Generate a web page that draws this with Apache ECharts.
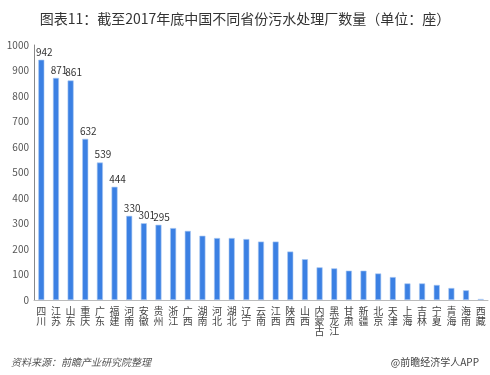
<!DOCTYPE html>
<html><head><meta charset="utf-8">
<script src="https://cdn.jsdelivr.net/npm/echarts@6/dist/echarts.min.js"></script>
<style>html,body{margin:0;padding:0;background:#fff}#c{width:490px;height:375px}</style>
</head><body><div id="c"></div>
<script>
const categories = ['四川','江苏','山东','重庆','广东','福建','河南','安徽','贵州','浙江','广西','湖南','河北','湖北','辽宁','云南','江西','陕西','山西','内蒙古','黑龙江','甘肃','新疆','北京','天津','上海','吉林','宁夏','青海','海南','西藏'];
const values = [942,871,861,632,539,444,330,301,295,282,271,252,243,243,239,229,229,190,160,128,124,115,115,104,90,65,65,59,47,38,4];
const labeledCount = 9;
const yTicks = [0,100,200,300,400,500,600,700,800,900,1000];

const chart = echarts.init(document.getElementById('c'));
chart.setOption({
  animation:false,
  textStyle:{fontFamily:'"Noto Sans CJK SC", "Noto Sans", sans-serif'},
  title:[
    {text:'图表11：截至2017年底中国不同省份污水处理厂数量（单位：座）',left:'center',top:7,
     textStyle:{fontSize:14,fontWeight:'normal',color:'#333',fontFamily:'"Noto Sans CJK SC", sans-serif'}},
    {text:'资料来源：前瞻产业研究院整理',left:6,top:352,
     textStyle:{fontSize:10,fontWeight:'normal',fontStyle:'italic',color:'#555'}},
    {text:'@前瞻经济学人APP',right:6,top:352,
     textStyle:{fontSize:10,fontWeight:'normal',color:'#444'}}
  ],
  grid:{left:34,right:2,top:45,bottom:75,containLabel:false},
  xAxis:{type:'category',data:categories,
    axisLine:{lineStyle:{color:'#bbb'}},axisTick:{show:false},
    axisLabel:{interval:0,fontSize:10,color:'#444',lineHeight:10,margin:6,
      formatter:v=>v.split('').join('\n'),verticalAlign:'top'}},
  yAxis:{type:'value',min:0,max:1000,interval:100,
    axisLine:{show:true,lineStyle:{color:'#888'}},axisTick:{show:false},
    splitLine:{show:false},
    axisLabel:{fontSize:10,color:'#555',margin:5,
      formatter:v=>yTicks.includes(v)?String(v):''}},
  series:[{type:'bar',barWidth:6,
    data:values.map((v,i)=>({value:v,label:{show:i<labeledCount}})),
    itemStyle:{color:'#3b80e3',borderColor:'#a9c8f2',borderWidth:0.6},
    label:{position:'top',fontSize:10,color:'#333',distance:3,offset:[3,0]}}]
});
</script></body></html>
